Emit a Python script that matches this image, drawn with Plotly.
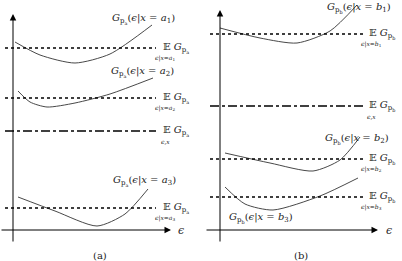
import plotly.graph_objects as go

# Curves (diagram coordinates: x to the right, y downward in pixels of the figure)
curve_a1_x = [15, 40, 75, 110, 152]
curve_a1_y = [42, 55, 63, 54, 25]
curve_a2_x = [18, 30, 47, 75, 110, 153]
curve_a2_y = [91, 102, 107, 103, 94, 78]
curve_a3_x = [18, 55, 97, 125, 148]
curve_a3_y = [197, 211, 226, 214, 189]
curve_b1_x = [220, 260, 297, 330, 357]
curve_b1_y = [28, 38, 43, 31, 5]
curve_b2_x = [225, 270, 313, 340, 360]
curve_b2_y = [153, 163, 171, 160, 137]
curve_b3_x = [225, 245, 273, 320, 358]
curve_b3_y = [187, 204, 210, 196, 178]

# Expectation levels
dotted_a = [48, 98, 208]
dashdot_a = 131
dotted_b = [34, 159, 197]
dashdot_b = 106

fig = go.Figure()
line_style = dict(color="#333333", width=0.9, shape="spline", smoothing=0.7)
for xs, ys in [(curve_a1_x, curve_a1_y), (curve_a2_x, curve_a2_y), (curve_a3_x, curve_a3_y),
               (curve_b1_x, curve_b1_y), (curve_b2_x, curve_b2_y), (curve_b3_x, curve_b3_y)]:
    fig.add_trace(go.Scatter(x=xs, y=ys, mode="lines", line=line_style, hoverinfo="skip", showlegend=False))

for y in dotted_a:
    fig.add_trace(go.Scatter(x=[5, 156], y=[y, y], mode="lines", line=dict(color="black", width=1.6, dash="dot"), showlegend=False))
for y in dotted_b:
    fig.add_trace(go.Scatter(x=[210, 363], y=[y, y], mode="lines", line=dict(color="black", width=1.6, dash="dot"), showlegend=False))
fig.add_trace(go.Scatter(x=[5, 156], y=[dashdot_a, dashdot_a], mode="lines", line=dict(color="black", width=1.6, dash="dashdot"), showlegend=False))
fig.add_trace(go.Scatter(x=[210, 363], y=[dashdot_b, dashdot_b], mode="lines", line=dict(color="black", width=1.6, dash="dashdot"), showlegend=False))

ann = []
# axes with arrowheads
for (x0, y0, x1, y1) in [(13, 243, 13, 14), (0, 230, 171, 230), (220, 243, 220, 10), (205, 230, 378, 230)]:
    ann.append(dict(x=x1, y=y1, ax=x0, ay=y0, xref="x", yref="y", axref="x", ayref="y",
                    showarrow=True, arrowhead=2, arrowsize=1.3, arrowwidth=1, arrowcolor="black", text=""))

F = "DejaVu Serif, Liberation Serif, serif"
def txt(x, y, s, size=11, xanchor="left"):
    ann.append(dict(x=x, y=y, text=s, showarrow=False, xanchor=xanchor, yanchor="middle",
                    font=dict(family=F, size=size, color="#222")))

def G(p, v):
    return "<i>G</i><sub>p<sub>%s</sub></sub>(<i>ϵ</i>|<i>x</i> = <i>%s</i><sub>%s</sub>)" % (p, v[0], v[1])

txt(110, 19, G("a", "a1"), size=10)
txt(109, 72, G("a", "a2"), size=10)
txt(111, 181, G("a", "a3"), size=10)
txt(325, 8, G("b", "b1"), size=10)
txt(323, 139, G("b", "b2"), size=10)
txt(227, 218, G("b", "b3"), size=10)

def E(x, y, p, sub):
    txt(x, y, "𝔼 <i>G</i><sub>p<sub>%s</sub></sub>" % p, size=10)
    txt(x + 4, y + 10, sub, size=6, xanchor="center")

E(161, 48, "a", "<i>ϵ</i>|<i>x</i>=<i>a</i><sub>1</sub>")
E(161, 98, "a", "<i>ϵ</i>|<i>x</i>=<i>a</i><sub>2</sub>")
E(161, 131, "a", "<i>ϵ</i>,<i>x</i>")
E(161, 208, "a", "<i>ϵ</i>|<i>x</i>=<i>a</i><sub>3</sub>")
E(367, 34, "b", "<i>ϵ</i>|<i>x</i>=<i>b</i><sub>1</sub>")
E(367, 106, "b", "<i>ϵ</i>,<i>x</i>")
E(367, 159, "b", "<i>ϵ</i>|<i>x</i>=<i>b</i><sub>2</sub>")
E(367, 197, "b", "<i>ϵ</i>|<i>x</i>=<i>b</i><sub>3</sub>")

txt(176, 230, "<i>ϵ</i>", size=11)
txt(384, 230, "<i>ϵ</i>", size=11)
txt(100, 255, "(a)", size=10, xanchor="center")
txt(301, 255, "(b)", size=10, xanchor="center")

fig.update_layout(
    width=402, height=261, margin=dict(l=0, r=0, t=0, b=0),
    paper_bgcolor="white", plot_bgcolor="white",
    xaxis=dict(range=[0, 402], visible=False, fixedrange=True),
    yaxis=dict(range=[261, 0], visible=False, fixedrange=True),
    annotations=ann,
)
fig.write_html("out.html")
